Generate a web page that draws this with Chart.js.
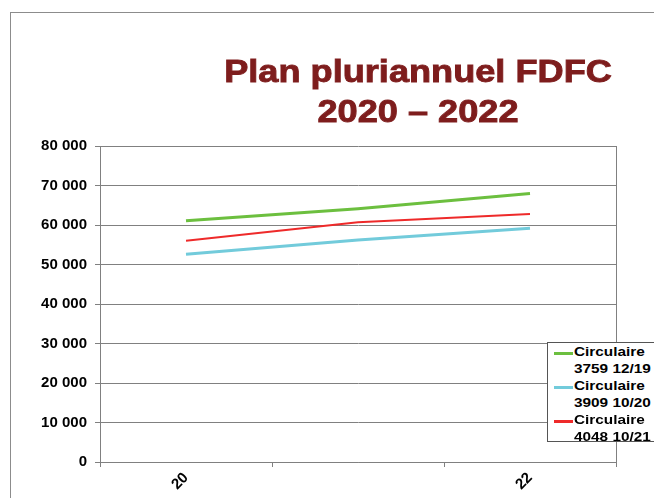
<!DOCTYPE html>
<html>
<head>
<meta charset="utf-8">
<script src="https://cdn.jsdelivr.net/npm/chart.js@4"></script>
<style>
  html, body { margin: 0; padding: 0; background: #fff; }
  #wrap { position: relative; width: 654px; height: 498px; overflow: hidden; background: #fff; }
  #frame { position: absolute; left: 10px; top: 12px; width: 644px; height: 486px;
           border-left: 1px solid #8c8c8c; border-top: 1px solid #8c8c8c; box-sizing: border-box; }
  #title { position: absolute; left: 168px; top: 52px; width: 500px; text-align: center;
           font: bold 32px "Liberation Sans", Arial, sans-serif; line-height: 39.5px; color: #7e1d1d;
           -webkit-text-stroke: 0.9px #7e1d1d;
           transform: scaleX(1.13); transform-origin: center; white-space: nowrap; }
  canvas { position: absolute; left: 0; top: 0; }
  #legend { position: absolute; left: 547px; top: 342px; width: 120px; height: 100px;
            border: 1px solid #555; background: #fff; box-sizing: border-box; }
  .item { position: relative; height: 34px; }
  .swatch { position: absolute; left: 6px; top: 9px; width: 19px; height: 3px; }
  .txt { position: absolute; left: 26px; top: 0; font: bold 13px "Liberation Sans", Arial, sans-serif;
         line-height: 17px; color: #000; white-space: pre; transform: scaleX(1.18); transform-origin: left; }
</style>
</head>
<body>
<div id="wrap">
  <div id="frame"></div>
  <canvas id="c" width="654" height="498"></canvas>
  <div id="title"></div>
  <div id="legend"></div>
</div>
<script>
// ---- data ----
const titleLines = ["Plan pluriannuel FDFC", "2020 \u2013 2022"];
const categories = ["20", "21", "22"];
const seriesNames = ["Circulaire\n3759 12/19", "Circulaire\n3909 10/20", "Circulaire\n4048 10/21"];
const circ3759 = [61100, 64100, 68000];
const circ3909 = [52600, 56200, 59200];
const circ4048 = [56000, 60700, 62800];
const yTicks = [0, 10000, 20000, 30000, 40000, 50000, 60000, 70000, 80000];

const seriesColors = ["#6cbf3f", "#72cbdb", "#ee2a2a"];
const seriesWidths = [3, 3, 2];

document.getElementById('title').innerHTML = titleLines.join('<br>');

const fmt = v => String(v).replace(/\B(?=(\d{3})+(?!\d))/g, ' ');

const rightBorder = {
  id: 'rightBorder',
  beforeDatasetsDraw(chart) {
    const { ctx, chartArea } = chart;
    ctx.save();
    ctx.strokeStyle = '#808080';
    ctx.lineWidth = 1;
    ctx.beginPath();
    ctx.moveTo(Math.round(chartArea.right) + 0.5, chartArea.top);
    ctx.lineTo(Math.round(chartArea.right) + 0.5, chartArea.bottom + 5);
    ctx.stroke();
    ctx.restore();
  }
};

const chart = new Chart(document.getElementById('c'), {
  type: 'line',
  data: {
    labels: categories,
    datasets: [circ3759, circ3909, circ4048].map((d, i) => ({
      label: seriesNames[i],
      data: d,
      borderColor: seriesColors[i],
      backgroundColor: seriesColors[i],
      borderWidth: seriesWidths[i],
      pointRadius: 0,
      tension: 0,
      fill: false
    }))
  },
  options: {
    responsive: false,
    animation: false,
    devicePixelRatio: 1,
    layout: { padding: { top: 146, right: 38, left: 0, bottom: 0 } },
    plugins: { legend: { display: false }, title: { display: false }, tooltip: { enabled: false } },
    scales: {
      x: {
        type: 'category',
        offset: true,
        grid: { display: true, drawOnChartArea: false, drawTicks: true, tickLength: 5, offset: true, color: '#808080' },
        border: { display: true, color: '#808080' },
        ticks: {
          autoSkip: false, minRotation: 45, maxRotation: 45, padding: 2,
          color: '#000', font: { family: '"Liberation Sans", Arial, sans-serif', size: 15, weight: 'bold' },
          callback: function (v, i) { return i % 2 === 0 ? this.getLabelForValue(v) : ''; }
        },
        afterFit(s) { s.height = 36; }
      },
      y: {
        min: 0, max: 80000,
        afterBuildTicks(s) { s.ticks = yTicks.map(v => ({ value: v })); },
        grid: { color: '#808080', tickLength: 5 },
        border: { display: true, color: '#808080' },
        ticks: {
          padding: 8, color: '#000',
          font: { family: '"Liberation Sans", Arial, sans-serif', size: 15, weight: 'bold' },
          callback: v => fmt(v)
        },
        afterFit(s) { s.width = 100; }
      }
    }
  },
  plugins: [rightBorder]
});

// custom legend from the chart's datasets
const lg = document.getElementById('legend');
chart.data.datasets.forEach(ds => {
  const it = document.createElement('div');
  it.className = 'item';
  const sw = document.createElement('span');
  sw.className = 'swatch';
  sw.style.background = ds.borderColor;
  const tx = document.createElement('span');
  tx.className = 'txt';
  tx.textContent = ds.label;
  it.appendChild(sw); it.appendChild(tx);
  lg.appendChild(it);
});
</script>
</body>
</html>
